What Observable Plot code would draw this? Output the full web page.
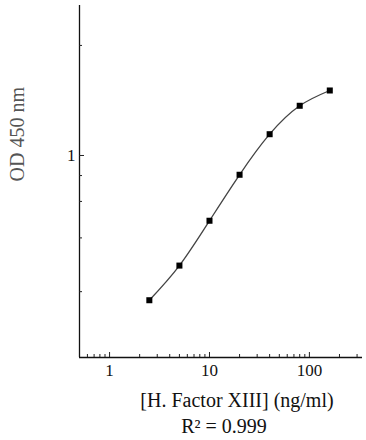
<!DOCTYPE html>
<html>
<head>
<meta charset="utf-8">
<script src="https://cdn.jsdelivr.net/npm/d3@7"></script>
<script src="https://cdn.jsdelivr.net/npm/@observablehq/plot@0.6"></script>
<style>
  html, body { margin: 0; padding: 0; background: #fff; }
  svg { display: block; }
</style>
</head>
<body>
<div id="chart"></div>
<script>
const concentration = [2.5, 5, 10, 20, 40, 80, 160];
const od450 = [0.20, 0.294, 0.484, 0.807, 1.267, 1.738, 2.06];
const xMajorTicks = [1, 10, 100];
const xMinorTicks = [0.6, 0.7, 0.8, 0.9, 2, 3, 4, 5, 6, 7, 8, 9, 20, 30, 40, 50, 60, 70, 80, 90, 200, 300];
const yMajorTicks = [1];
const yMinorTicks = [0.22, 0.4, 0.6, 0.8, 3.4];
const xLabel = "[H. Factor XIII] (ng/ml)";
const yLabel = "OD 450 nm";
const fitLabel = "R\u00B2 = 0.999";

const data = concentration.map((c, i) => ({c, od: od450[i]}));
const font = "'Liberation Serif', 'DejaVu Serif', serif";

const chart = Plot.plot({
  width: 366,
  height: 440,
  marginLeft: 79,
  marginRight: 4,
  marginTop: 5,
  marginBottom: 83,
  style: {fontFamily: font, background: "#fff"},
  x: {type: "log", domain: [0.5, 340]},
  y: {type: "log", domain: [0.1058, 5.3]},
  marks: [
    Plot.ruleX([0.5], {stroke: "#111", strokeWidth: 1.3}),
    Plot.ruleY([0.1058], {stroke: "#111", strokeWidth: 1.3}),
    Plot.axisX(xMinorTicks, {tickSize: -3, text: null, label: null, stroke: "#222"}),
    Plot.axisX(xMajorTicks, {tickSize: -5, text: null, label: null, stroke: "#222"}),
    Plot.axisX(xMajorTicks, {tickSize: 0, tickPadding: 6, fontSize: 17, fill: "#111", label: null, tickFormat: d => String(d)}),
    Plot.axisY(yMinorTicks, {tickSize: -3, text: null, label: null, stroke: "#222"}),
    Plot.axisY(yMajorTicks, {tickSize: -5, text: null, label: null, stroke: "#222"}),
    Plot.axisY(yMajorTicks, {tickSize: 0, tickPadding: 4, fontSize: 17, fill: "#111", label: null, tickFormat: d => String(d)}),
    Plot.line(data, {x: "c", y: "od", curve: "natural", stroke: "#444", strokeWidth: 1.3}),
    Plot.dot(data, {x: "c", y: "od", symbol: "square", r: 3.4, fill: "#000", stroke: "none"}),
    Plot.text([xLabel], {frameAnchor: "bottom", dy: 43, dx: 16, lineAnchor: "middle", fontSize: 20, fill: "#111"}),
    Plot.text([fitLabel], {frameAnchor: "bottom", dy: 69, dx: 3, lineAnchor: "middle", fontSize: 20, fill: "#111"}),
    Plot.text([yLabel], {frameAnchor: "left", dx: -62, rotate: -90, lineAnchor: "middle", fontSize: 20, fill: "#555"})
  ]
});
document.getElementById("chart").appendChild(chart);
</script>
</body>
</html>
